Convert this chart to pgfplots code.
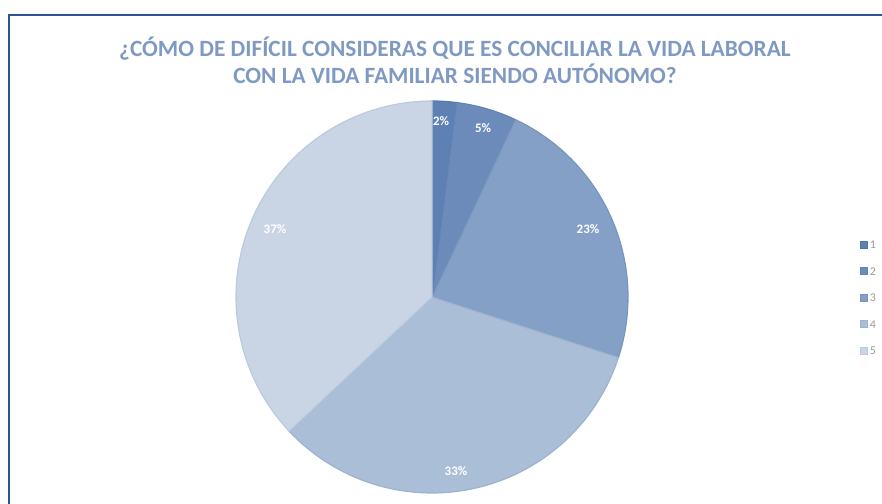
\documentclass[border=0pt]{standalone}
\usepackage{pgfplots}
\pgfplotsset{compat=1.18}
\usepackage{fontspec}
\setmainfont{Carlito}
\definecolor{s1}{HTML}{5F80B3}
\definecolor{s2}{HTML}{6C8BBB}
\definecolor{s3}{HTML}{84A0C6}
\definecolor{s4}{HTML}{ABBED7}
\definecolor{s5}{HTML}{C9D5E5}
\definecolor{e1}{HTML}{5676AA}
\definecolor{e2}{HTML}{6283B4}
\definecolor{e3}{HTML}{7895BD}
\definecolor{e4}{HTML}{9DB2CF}
\definecolor{e5}{HTML}{BCCADE}
\definecolor{titlec}{HTML}{7F9AC2}
\definecolor{framec}{HTML}{2F5496}
\definecolor{legc}{HTML}{9A9A9A}
% percentages of the five answers
\def\vA{2}\def\vB{5}\def\vC{23}\def\vD{33}\def\vE{37}
\pgfmathsetmacro{\aA}{90}
\pgfmathsetmacro{\aB}{\aA-3.6*\vA}
\pgfmathsetmacro{\aC}{\aB-3.6*\vB}
\pgfmathsetmacro{\aD}{\aC-3.6*\vC}
\pgfmathsetmacro{\aE}{\aD-3.6*\vD}
\pgfmathsetmacro{\aF}{\aE-3.6*\vE}
\begin{document}
\begin{tikzpicture}
\begin{axis}[
  width=882bp, height=504bp, scale only axis,
  xmin=0, xmax=882, ymin=0, ymax=504,
  hide axis, clip=false,
  legend style={draw=none, fill=none, at={(axis cs:860,265)}, anchor=north west,
    font=\fontsize{12}{12}\selectfont\color{legc}, row sep=15.5bp,
    inner sep=0pt, cells={anchor=west},
    nodes={text height=8bp, text depth=0bp, inner sep=1.5bp}},
  legend image code/.code={\fill[#1] (0bp,-3.5bp) rectangle (7bp,3.5bp);},
]
\addplot[fill=s1, draw=e1, line width=1.2bp, domain=\aB:\aA, samples=10, variable=\t]
  ({432+196*cos(\t)},{207+196*sin(\t)}) -- (axis cs:432,207) -- cycle;
\addlegendentry{1}
\addplot[fill=s2, draw=e2, line width=1.2bp, domain=\aC:\aB, samples=15, variable=\t]
  ({432+196*cos(\t)},{207+196*sin(\t)}) -- (axis cs:432,207) -- cycle;
\addlegendentry{2}
\addplot[fill=s3, draw=e3, line width=1.2bp, domain=\aD:\aC, samples=50, variable=\t]
  ({432+196*cos(\t)},{207+196*sin(\t)}) -- (axis cs:432,207) -- cycle;
\addlegendentry{3}
\addplot[fill=s4, draw=e4, line width=1.2bp, domain=\aE:\aD, samples=70, variable=\t]
  ({432+196*cos(\t)},{207+196*sin(\t)}) -- (axis cs:432,207) -- cycle;
\addlegendentry{4}
\addplot[fill=s5, draw=e5, line width=1.2bp, domain=\aF:\aE, samples=80, variable=\t]
  ({432+196*cos(\t)},{207+196*sin(\t)}) -- (axis cs:432,207) -- cycle;
\addlegendentry{5}
\draw[framec, line width=1.8bp] (axis cs:9,0) -- (axis cs:9,489) -- (axis cs:882,489);
\node[font=\bfseries\fontsize{23.4}{27}\selectfont, text=titlec, align=center] at (axis cs:455,444)
  {¿CÓMO DE DIFÍCIL CONSIDERAS QUE ES CONCILIAR LA VIDA LABORAL\\CON LA VIDA FAMILIAR SIENDO AUTÓNOMO?};
\begin{scope}[every node/.style={font=\bfseries\fontsize{13}{13}\selectfont, text=white}]
\node at (axis cs:441,383) {2\%};
\node at (axis cs:483,376) {5\%};
\node at (axis cs:588,275) {23\%};
\node at (axis cs:456,33) {33\%};
\node at (axis cs:275,275) {37\%};
\end{scope}
\end{axis}
\pgfresetboundingbox
\path (0,0) rectangle (882bp,504bp);
\end{tikzpicture}
\end{document}
